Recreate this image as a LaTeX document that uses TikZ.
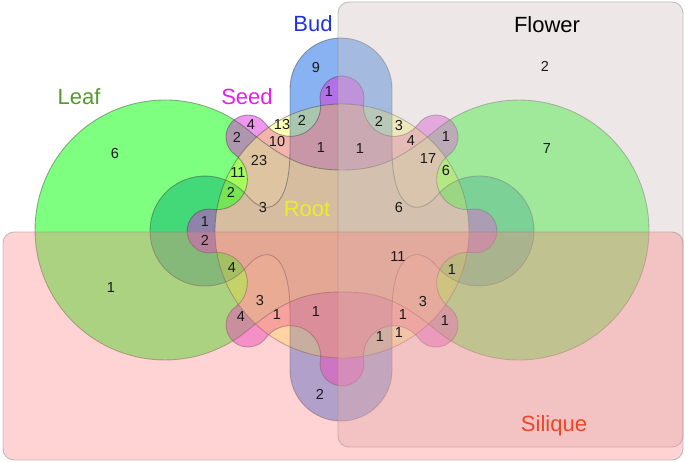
\documentclass[tikz,border=0pt]{standalone}
\usepackage{fontspec}
\setmainfont{Liberation Sans}
\definecolor{budc}{rgb}{0.07,0.4,0.9}
\definecolor{leafc}{rgb}{0,1,0}
\definecolor{seedc}{rgb}{0.87,0.19,0.87}
\definecolor{rootc}{rgb}{1,1,0}
\definecolor{flowerc}{rgb}{0.825,0.775,0.77}
\definecolor{siliquec}{rgb}{1,0.5,0.5}
\definecolor{tanc}{rgb}{0.94,0.81,0.72}
\definecolor{budtxt}{rgb}{0.12,0.2,0.9}
\definecolor{leaftxt}{rgb}{0.33,0.6,0.18}
\definecolor{seedtxt}{rgb}{0.9,0.12,0.9}
\definecolor{roottxt}{rgb}{0.93,0.93,0.15}
\definecolor{siliquetxt}{rgb}{0.93,0.27,0.15}
\newcommand{\budshape}{(290,150) -- (290,89) arc[start angle=180,end angle=360,radius=51]
  -- (392,150) .. controls (392,210) and (417.6,218.6) .. (436.9,195.6)
  arc[start angle=220,end angle=500,radius=55]
  .. controls (417.6,243.4) and (392,252) .. (392,312)
  -- (392,370) arc[start angle=0,end angle=180,radius=51]
  -- (290,312) .. controls (290,252) and (266.4,243.4) .. (247.1,266.4)
  arc[start angle=40,end angle=320,radius=55]
  .. controls (266.4,218.6) and (290,210) .. (290,150) -- cycle}
\newcommand{\leafshape}{(248.6,130.4) arc[start angle=310,end angle=50,radius=130]
  .. controls (286.9,297.5) and (310,292) .. (342,292)
  .. controls (374,292) and (397.1,297.5) .. (435.4,329.6)
  arc[start angle=130,end angle=-130,radius=130]
  .. controls (397.1,162.5) and (374,170) .. (342,170)
  .. controls (310,170) and (286.9,162.5) .. (248.6,130.4) -- cycle}
\newcommand{\seedshape}{(471.67,209.25)
  \foreach \k in {0,...,7} {
    arc[start angle={45*\k-98.7},end angle={45*\k+98.7},radius=22]
    arc[start angle={45*\k+22.5-103.8},end angle={45*\k+22.5-256.2},radius=30.4]
  } -- cycle}
\newcommand{\rootshape}{(342,231) circle[radius=127]}
\begin{document}
\begin{tikzpicture}[x=1pt,y=-1pt,
  setline/.style={draw=black!75,draw opacity=0.45,line width=0.9pt},
  budset/.style={fill=budc,fill opacity=0.5},
  leafset/.style={fill=leafc,fill opacity=0.5},
  seedset/.style={fill=seedc,fill opacity=0.5},
  rootset/.style={fill=rootc,fill opacity=0.28},
  flowerset/.style={setline,draw=black!50,fill=flowerc,fill opacity=0.4,rounded corners=11pt},
  siliqueset/.style={setline,draw=black!50,fill=siliquec,fill opacity=0.35,rounded corners=11pt},
  num/.style={inner sep=0pt,font=\fontsize{14.5}{16}\selectfont,text=black!90},
  setname/.style={inner sep=0pt,font=\fontsize{22}{24}\selectfont}]
\useasboundingbox (0,0) rectangle (685,462);
% fills
\path[budset] \budshape;
\path[leafset] \leafshape;
\path[seedset] \seedshape;
\path[rootset] \rootshape;
% common tint of Leaf, Root and Seed overlap
\begin{scope}
  \clip \leafshape;
  \clip \rootshape;
  \clip \seedshape;
  \fill[tanc,fill opacity=0.6] (150,60) rectangle (540,400);
\end{scope}
% outlines
\path[setline] \budshape;
\path[setline] \leafshape;
\path[setline] \seedshape;
\path[setline] \rootshape;
% Flower
\path[flowerset] (338,2) rectangle (683,447);
% Silique
\path[siliqueset] (3,232) rectangle (683,460);
% set names
\node[setname,text=budtxt] (tBud) at (313,24) {Bud};
\node[setname,text=black] (tFlower) at (547,25) {Flower};
\node[setname,text=leaftxt] (tLeaf) at (79,97) {Leaf};
\node[setname,text=seedtxt] (tSeed) at (247,97) {Seed};
\node[setname,text=roottxt] (tRoot) at (307,209) {Root};
\node[setname,text=siliquetxt] (tSilique) at (554,426) {Silique};
% counts
\node[num] (a1) at (115,154) {6};
\node[num] (a2) at (316,68) {9};
\node[num] (a3) at (329,92) {1};
\node[num] (a4) at (302,120) {2};
\node[num] (a5) at (282,125) {13};
\node[num] (a6) at (251,125) {4};
\node[num] (a7) at (237,137) {2};
\node[num] (a8) at (277,142) {10};
\node[num] (a9) at (321,148) {1};
\node[num] (a10) at (259,161) {23};
\node[num] (a11) at (238,173) {11};
\node[num] (a12) at (231,192) {2};
\node[num] (a13) at (263,208) {3};
\node[num] (a14) at (205,222) {1};
\node[num] (a15) at (205,240) {2};
\node[num] (b1) at (545,66) {2};
\node[num] (b2) at (547,149) {7};
\node[num] (b3) at (360,149) {1};
\node[num] (b4) at (379,121) {2};
\node[num] (b5) at (399,126) {3};
\node[num] (b6) at (411,141) {4};
\node[num] (b7) at (446,137) {1};
\node[num] (b8) at (428,159) {17};
\node[num] (b9) at (446,171) {6};
\node[num] (b10) at (399,208) {6};
\node[num] (c1) at (111,288) {1};
\node[num] (c2) at (232,268) {4};
\node[num] (c3) at (398,257) {11};
\node[num] (c4) at (452,270) {1};
\node[num] (c5) at (260,301) {3};
\node[num] (c6) at (241,317) {4};
\node[num] (c7) at (277,315) {1};
\node[num] (c8) at (316,312) {1};
\node[num] (c9) at (320,394) {2};
\node[num] (c10) at (423,302) {3};
\node[num] (c11) at (403,315) {1};
\node[num] (c12) at (445,321) {1};
\node[num] (c13) at (380,337) {1};
\node[num] (c14) at (399,333) {1};
\end{tikzpicture}
\end{document}
